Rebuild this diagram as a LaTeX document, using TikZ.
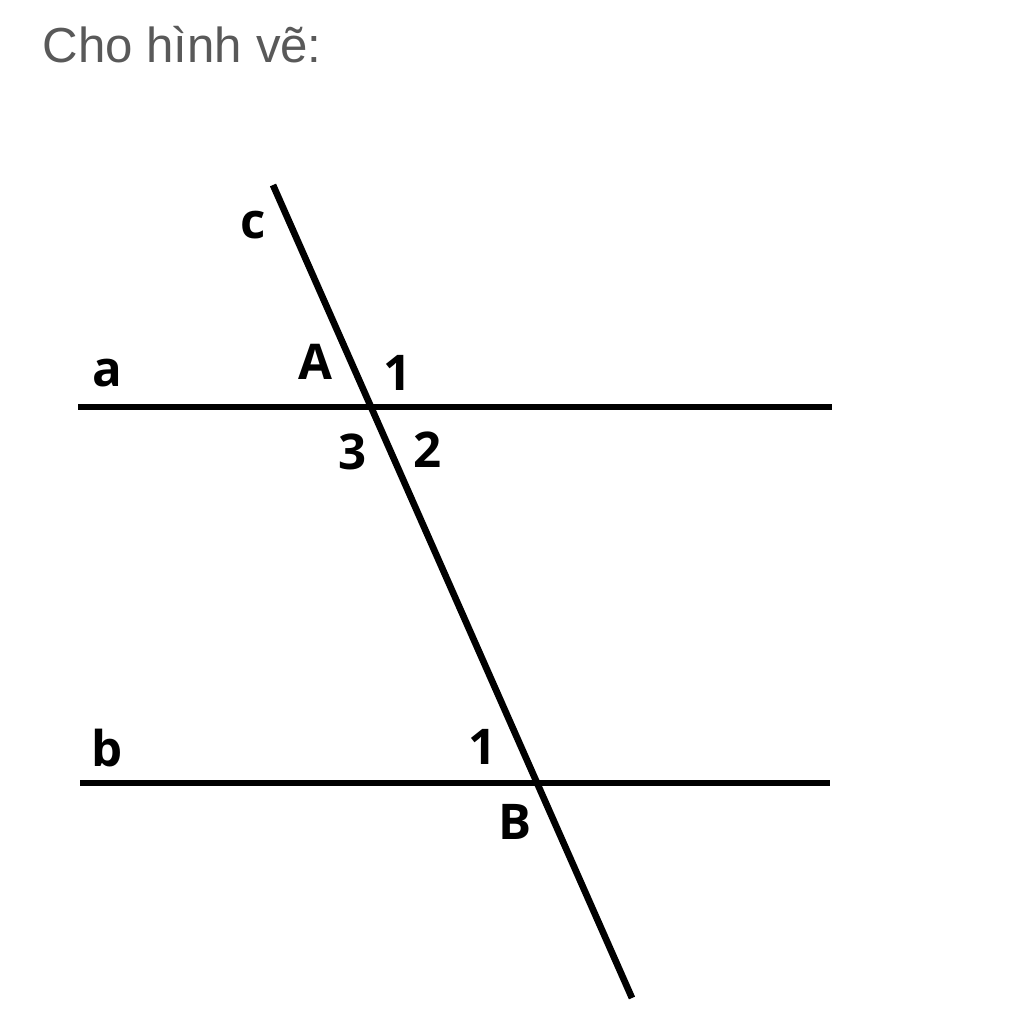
\documentclass[tikz,border=0pt]{standalone}
\usepackage{fontspec}
\setmainfont{Liberation Sans}
\newfontfamily\lblfont{Open Sans}
\usetikzlibrary{positioning}
\tikzset{
  ln/.style={line width=1.9pt},
  lbl/.style={font=\lblfont\bfseries\fontsize{14}{16}\selectfont, inner sep=0pt}
}
\begin{document}
\begin{tikzpicture}
\useasboundingbox (0,0) rectangle (10.24,10.24);
\node[anchor=base west, text=black!65, font=\fontsize{14}{16}\selectfont, inner sep=0pt] (title) at (0.42,9.61) {Cho hình vẽ:};
% lines a, b, c
\coordinate (a1) at (0.78,6.17);
\coordinate (a2) at (8.32,6.17);
\coordinate (b1) at (0.80,2.41);
\coordinate (b2) at (8.30,2.41);
\coordinate (c1) at (2.73,8.39);
\coordinate (c2) at (6.32,0.26);
\draw[ln] (a1)--(a2);
\draw[ln] (b1)--(b2);
\draw[ln] (c1)--(c2);
% labels
\node[lbl] (lc) at (2.53,7.99) {c};
\node[lbl] (la) at (1.07,6.51) {a};
\node[lbl] (lb) at (1.07,2.76) {b};
\node[lbl] (lA) at (3.15,6.62) {A};
\node[lbl] (lA1) at (3.98,6.51) {1};
\node[lbl] (lA3) at (3.53,5.72) {3};
\node[lbl] (lA2) at (4.28,5.74) {2};
\node[lbl] (lB1) at (4.83,2.77) {1};
\node[lbl] (lB) at (5.15,2.02) {B};
\end{tikzpicture}
\end{document}
